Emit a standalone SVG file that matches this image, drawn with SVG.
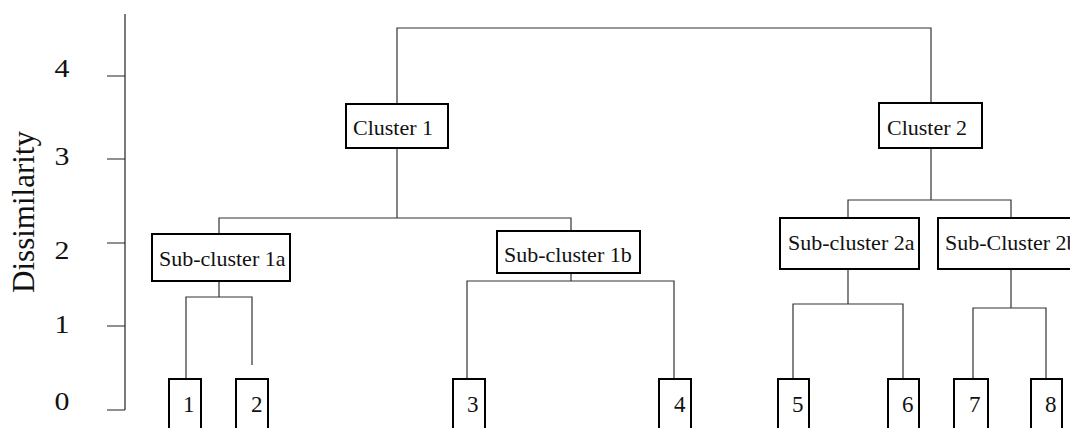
<svg xmlns="http://www.w3.org/2000/svg" width="1070" height="428" viewBox="0 0 1070 428">
  <style>
    .box { fill: #ffffff; stroke: #000000; stroke-width: 2; }
    .lbl { font-family: "Liberation Serif", "Times New Roman", serif; font-size: 22px; fill: #111111; }
    .leaf { font-family: "Liberation Serif", "Times New Roman", serif; font-size: 23px; fill: #111111; }
    .axis { stroke: #222222; stroke-width: 1.2; fill: none; }
    .tick { font-family: "Liberation Serif", "Times New Roman", serif; font-size: 26px; fill: #111111; text-anchor: middle; }
    .edge { stroke: #333333; stroke-width: 1.2; fill: none; }
  </style>
  <rect width="1070" height="428" fill="#ffffff"/>

  <!-- dissimilarity axis -->
  <g id="axis">
    <path class="axis" d="M125,14 V410 M107,76 H125 M107,159 H125 M107,243 H125 M107,326 H125 M107,410 H125"/>
    <text class="tick" transform="translate(62,77) scale(1.15,1)">4</text>
    <text class="tick" transform="translate(62,165) scale(1.15,1)">3</text>
    <text class="tick" transform="translate(62,259) scale(1.15,1)">2</text>
    <text class="tick" transform="translate(62,333) scale(1.15,1)">1</text>
    <text class="tick" transform="translate(62,410) scale(1.15,1)">0</text>
    <text font-family="Liberation Serif, Times New Roman, serif" font-size="31" fill="#111111" text-anchor="middle" transform="translate(34,212) rotate(-90)">Dissimilarity</text>
  </g>

  <!-- dendrogram links -->
  <g id="connectors">
    <path class="edge" d="M397,104 V28 H931 V103"/>
    <path class="edge" d="M397,148 V218 M219,234 V218 H571 V231"/>
    <path class="edge" d="M931,148 V200 M848,218 V200 H1011 V218"/>
    <path class="edge" d="M219,281 V297 M186,379 V297 H252 V365"/>
    <path class="edge" d="M571,273 V281 M467,379 V281 H674 V379"/>
    <path class="edge" d="M848,269 V304 M793,379 V304 H903 V379"/>
    <path class="edge" d="M1011,269 V308 M973,379 V308 H1046 V379"/>
  </g>

  <g id="cluster1">
    <rect class="box" x="346" y="104" width="102" height="44"/>
    <text class="lbl" x="353" y="135">Cluster 1</text>
  </g>
  <g id="cluster2">
    <rect class="box" x="879" y="103" width="103" height="45"/>
    <text class="lbl" x="887" y="135">Cluster 2</text>
  </g>
  <g id="sub1a">
    <rect class="box" x="152" y="234" width="138" height="47"/>
    <text class="lbl" x="159" y="266">Sub-cluster 1a</text>
  </g>
  <g id="sub1b">
    <rect class="box" x="497" y="231" width="143" height="42"/>
    <text class="lbl" x="504" y="262">Sub-cluster 1b</text>
  </g>
  <g id="sub2a">
    <rect class="box" x="780" y="218" width="139" height="51"/>
    <text class="lbl" x="788" y="250">Sub-cluster 2a</text>
  </g>
  <g id="sub2b">
    <rect class="box" x="938" y="218" width="146" height="51"/>
    <text class="lbl" x="945" y="250">Sub-Cluster 2b</text>
  </g>

  <g id="leaf1"><rect class="box" x="169" y="379" width="32" height="60"/><text class="leaf" x="183" y="412">1</text></g>
  <g id="leaf2"><rect class="box" x="236" y="379" width="32" height="60"/><text class="leaf" x="251" y="412">2</text></g>
  <g id="leaf3"><rect class="box" x="453" y="379" width="32" height="60"/><text class="leaf" x="467" y="412">3</text></g>
  <g id="leaf4"><rect class="box" x="659" y="379" width="32" height="60"/><text class="leaf" x="674" y="412">4</text></g>
  <g id="leaf5"><rect class="box" x="778" y="379" width="31" height="60"/><text class="leaf" x="792" y="412">5</text></g>
  <g id="leaf6"><rect class="box" x="888" y="379" width="31" height="60"/><text class="leaf" x="902" y="412">6</text></g>
  <g id="leaf7"><rect class="box" x="954" y="379" width="34" height="60"/><text class="leaf" x="969" y="412">7</text></g>
  <g id="leaf8"><rect class="box" x="1031" y="379" width="31" height="60"/><text class="leaf" x="1045" y="412">8</text></g>
</svg>
